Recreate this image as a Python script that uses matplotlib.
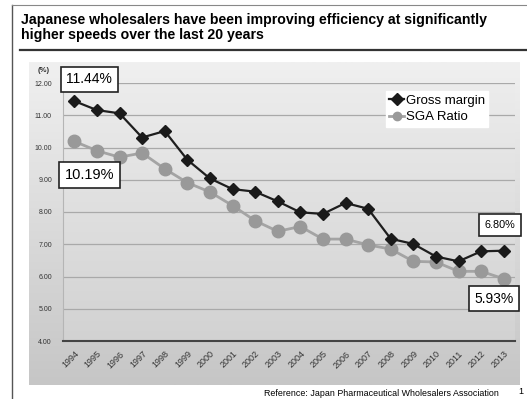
import matplotlib
matplotlib.use("Agg")
import matplotlib.pyplot as plt
import numpy as np

plt.rcParams['font.family'] = ['Liberation Sans', 'DejaVu Sans']

years = [str(y) for y in range(1994, 2014)]
gross_margin = [11.44, 11.16, 11.06, 10.31, 10.51, 9.62, 9.04, 8.71, 8.63, 8.33,
                7.99, 7.94, 8.28, 8.10, 7.17, 7.01, 6.62, 6.47, 6.78, 6.80]
sga_ratio = [10.19, 9.90, 9.70, 9.83, 9.34, 8.91, 8.62, 8.20, 7.73, 7.40,
             7.55, 7.16, 7.16, 6.98, 6.85, 6.47, 6.45, 6.16, 6.16, 5.93]
yticks = [4, 5, 6, 7, 8, 9, 10, 11, 12]

W, H = 527, 399
fig = plt.figure(figsize=(W / 100, H / 100), dpi=100)
fig.patch.set_facecolor('white')

def fx(px):
    return px / W

def fy(py):
    return 1 - py / H

# outer frame lines
fig.add_artist(plt.Line2D([fx(11.5), fx(11.5)], [fy(5), fy(399)], color='#555555', lw=1.0))
fig.add_artist(plt.Line2D([fx(11.5), fx(527)], [fy(5), fy(5)], color='#888888', lw=0.8))
# title
fig.text(fx(21), fy(13), "Japanese wholesalers have been improving efficiency at significantly\nhigher speeds over the last 20 years",
         fontsize=10.2, fontweight='bold', va='top', ha='left', linespacing=1.1)
fig.add_artist(plt.Line2D([fx(20), fx(527)], [fy(50), fy(50)], color='#333333', lw=1.6))

# panel background with gradient
panel = fig.add_axes([fx(29), fy(385), fx(520 - 29), (385 - 62) / H])
grad = np.linspace(0, 1, 256).reshape(-1, 1)
panel.imshow(grad, aspect='auto', cmap=matplotlib.colors.LinearSegmentedColormap.from_list('g', ['#f0f0f0', '#c6c6c6']),
             extent=[0, 1, 0, 1], origin='upper')
panel.set_xlim(0, 1)
panel.set_ylim(0, 1)
panel.axis('off')

ax = fig.add_axes([fx(63), fy(341), fx(515 - 63), (341 - 83) / H])
ax.imshow(grad, aspect='auto', cmap=matplotlib.colors.LinearSegmentedColormap.from_list('g2', ['#ececec', '#d2d2d2']),
          extent=[-0.5, len(years) - 0.5, 4, 12], origin='upper', zorder=0)
x = np.arange(len(years))
ax.set_xlim(-0.5, len(years) - 0.5)
ax.set_ylim(4, 12)
ax.set_yticks(yticks)
ax.set_yticklabels([f"{v:.2f}" for v in yticks], fontsize=5, color='#333333')
ax.set_xticks(x)
ax.set_xticklabels(years, rotation=45, ha='right', rotation_mode='anchor', fontsize=6.5, color='#333333')
ax.tick_params(length=0, pad=8)
ax.tick_params(axis='x', pad=6)
ax.grid(axis='y', color='#a9a9a9', lw=0.9, zorder=1)
for s in ['top', 'right']:
    ax.spines[s].set_visible(False)
ax.spines['left'].set_color('#b5b5b5')
ax.spines['bottom'].set_color('#444444')
ax.spines['bottom'].set_linewidth(1.5)

ax.plot(x, sga_ratio, color='#a4a4a4', lw=2.0, marker='o', ms=9, mfc='#999999', mec='#999999',
        label='SGA Ratio', zorder=3)
ax.plot(x, gross_margin, color='#1e1e1e', lw=1.6, marker='D', ms=6.5, mfc='#1a1a1a', mec='#1a1a1a',
        label='Gross margin', zorder=4)

h, l = ax.get_legend_handles_labels()
leg = ax.legend(h[::-1], l[::-1], loc='upper left', bbox_to_anchor=((386 - 63) / 452, 1 - (91 - 83) / 258),
                frameon=True, fontsize=9.5, handlelength=1.1, handletextpad=0.15, borderpad=0.25,
                labelspacing=0.35, fancybox=False, borderaxespad=0)
leg.get_frame().set_edgecolor('white')
leg.get_frame().set_facecolor('white')
leg.get_frame().set_alpha(1)
for lh in leg.legend_handles:
    lh.set_markersize(6)

box = dict(boxstyle='square,pad=0.4', fc='white', ec='#222222', lw=1.2)
ax.text(0.66, 12.11, f"{gross_margin[0]:.2f}%", fontsize=10, ha='center', va='center', bbox=box, clip_on=False, zorder=6)
ax.text(0.69, 9.14, f"{sga_ratio[0]:.2f}%", fontsize=10.5, ha='center', va='center', bbox=box, clip_on=False, zorder=6)
box2 = dict(boxstyle='square,pad=0.55', fc='white', ec='#222222', lw=1.2)
ax.text(18.84, 7.60, f"{gross_margin[-1]:.2f}%", fontsize=7.8, ha='center', va='center', bbox=box2, clip_on=False, zorder=6)
ax.text(18.56, 5.31, f"{sga_ratio[-1]:.2f}%", fontsize=10, ha='center', va='center', bbox=box, clip_on=False, zorder=6)

fig.text(fx(44), fy(70), "(%)", fontsize=5.5, fontweight='bold', ha='center', va='center', color='#333333')

fig.text(fx(499), fy(393), "Reference: Japan Pharmaceutical Wholesalers Association", fontsize=6.4, ha='right', va='center')
fig.text(fx(518), fy(392), "1", fontsize=6.5, ha='left', va='center')

fig.savefig('out.png', dpi=100)
